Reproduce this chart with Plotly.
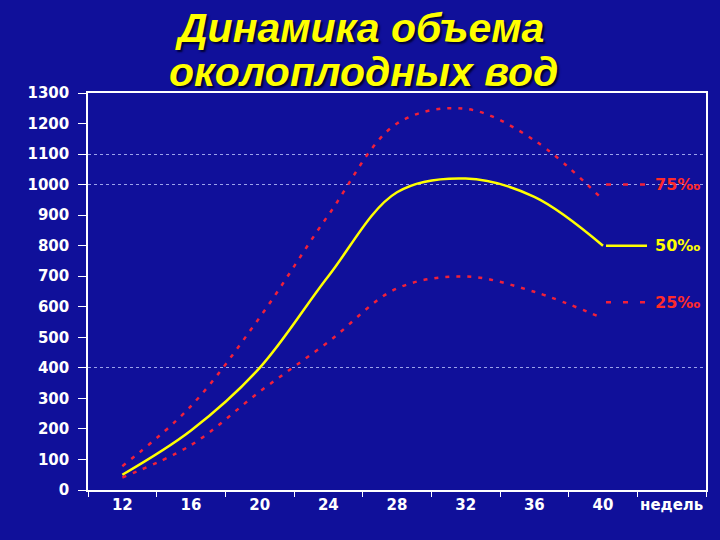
import plotly.graph_objects as go

weeks = ["12", "16", "20", "24", "28", "32", "36", "40"]
unit_label = "недель"
p75 = [78, 275, 565, 900, 1200, 1248, 1145, 950]
p50 = [50, 195, 400, 700, 975, 1020, 960, 800]
p25 = [41, 147, 322, 485, 660, 699, 649, 562]
y_ticks = list(range(0, 1301, 100))
grid_vals = [400, 1000, 1100]
legend_items = [("75‰", 1000, "#ff2a2a", "5px,12px"),
                ("50‰", 800, "#ffff00", "solid"),
                ("25‰", 615, "#ff2a2a", "5px,12px")]
title_lines = ["Динамика объема", "околоплодных вод"]

BG = "#10109a"
RED = "#f0203a"
YEL = "#ffff00"

fig = go.Figure()
fig.add_trace(go.Scatter(x=weeks, y=p75, mode="lines",
                         line=dict(color=RED, width=2.5, dash="4px,7px", shape="spline", smoothing=1),
                         showlegend=False, hoverinfo="skip"))
fig.add_trace(go.Scatter(x=weeks, y=p25, mode="lines",
                         line=dict(color=RED, width=2.5, dash="4px,7px", shape="spline", smoothing=1),
                         showlegend=False, hoverinfo="skip"))
fig.add_trace(go.Scatter(x=weeks, y=p50, mode="lines",
                         line=dict(color=YEL, width=2.5, shape="spline", smoothing=1),
                         showlegend=False, hoverinfo="skip"))

tickfont = dict(family="DejaVu Sans", size=15, color="white", weight="bold")

fig.update_layout(
    width=720, height=540, autosize=False,
    margin=dict(l=88, r=14, t=93, b=50),
    paper_bgcolor=BG, plot_bgcolor=BG,
    xaxis=dict(type="category", categoryorder="array", categoryarray=weeks + [unit_label],
               tickvals=weeks + [unit_label], tickangle=0,
               range=[-0.5, len(weeks) + 0.5], tickson="boundaries",
               ticks="outside", ticklen=5, tickcolor="white", tickwidth=1,
               showline=True, linecolor="white", linewidth=1.5, mirror=True,
               showgrid=False, zeroline=False, tickfont=tickfont),
    yaxis=dict(range=[0, 1300], tickvals=y_ticks, ticks="outside", ticklen=8,
               tickcolor="white", ticklabelstandoff=6,
               showline=True, linecolor="white", linewidth=1.5, mirror=True,
               showgrid=False, zeroline=False, tickfont=tickfont),
    yaxis2=dict(range=[0, 1300], overlaying="y", tickvals=grid_vals, showticklabels=False,
                showgrid=True, gridcolor="rgba(190,200,255,0.8)", gridwidth=1, griddash="dot",
                zeroline=False, showline=False, ticks=""),
    showlegend=False,
)
# dummy trace to activate yaxis2 grid
fig.add_trace(go.Scatter(x=[weeks[0]], y=[None], yaxis="y2", showlegend=False, hoverinfo="skip"))

# legend-like keys and labels at the right
for label, yv, col, dash in legend_items:
    fig.add_shape(type="line", xref="paper", yref="y", x0=(606 - 88) / 618, x1=(647 - 88) / 618,
                  y0=yv, y1=yv, line=dict(color=col if col != "#ff2a2a" else RED, width=2.5, dash=dash))
    fig.add_annotation(xref="paper", yref="y", x=(653 - 88) / 618, y=yv, xanchor="left", yanchor="middle",
                       text=label, showarrow=False,
                       font=dict(family="DejaVu Sans", size=16, color=col, weight="bold"))

# title lines
title_font = dict(family="Liberation Sans", size=41, color=YEL, weight="bold", style="italic",
                  shadow="2px 2px 2px #000030")
fig.add_annotation(xref="paper", yref="paper", x=(173 - 88) / 618, y=(490 - 28) / 397,
                   xanchor="left", yanchor="middle", text=title_lines[0], showarrow=False, font=title_font)
fig.add_annotation(xref="paper", yref="paper", x=(167 - 88) / 618, y=(490 - 72) / 397,
                   xanchor="left", yanchor="middle", text=title_lines[1], showarrow=False, font=title_font)

fig.write_html("out.html",
               config={"responsive": False, "displayModeBar": False},
               post_script="document.body.style.margin='0';document.body.style.background='" + BG + "';")
